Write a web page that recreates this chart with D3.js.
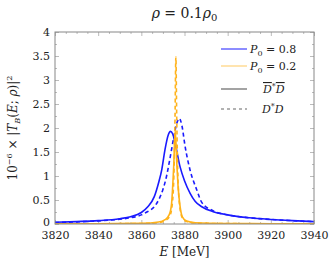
<!DOCTYPE html>
<html>
<head>
<meta charset="utf-8">
<script src="https://cdn.jsdelivr.net/npm/d3@7"></script>
<style>
  body { margin: 0; background: #fff; }
  svg text { font-family: "DejaVu Serif", serif !important; fill: #222; }
</style>
</head>
<body>
<div id="chart"></div>
<script>
// curves: energy (MeV) and 10^-6 |T_B|^2
var blueSolidE = [3820, 3830, 3840, 3850, 3855, 3860, 3863, 3866, 3868, 3869.5, 3871, 3872.5, 3873.5, 3874.5, 3875.6, 3877.9, 3880, 3882.6, 3885, 3888, 3893, 3900, 3910, 3920, 3930, 3940];
var blueSolidV = [0.035, 0.05, 0.07, 0.11, 0.15, 0.24, 0.36, 0.57, 0.86, 1.14, 1.56, 1.86, 1.93, 1.88, 1.7, 1.2, 0.9, 0.64, 0.47, 0.36, 0.26, 0.19, 0.13, 0.095, 0.07, 0.05];

var blueDashE = [3820, 3830, 3840, 3850, 3855, 3860, 3863, 3866, 3868, 3870, 3871.7, 3873, 3874.8, 3876.3, 3877.6, 3878.8, 3880.3, 3882.6, 3885.7, 3888, 3893, 3900, 3910, 3920, 3930, 3940];
var blueDashV = [0.03, 0.045, 0.065, 0.1, 0.13, 0.19, 0.26, 0.36, 0.5, 0.72, 1.0, 1.3, 1.75, 2.08, 2.2, 2.05, 1.61, 1.12, 0.71, 0.45, 0.28, 0.19, 0.13, 0.095, 0.07, 0.05];

var orangeSolidE = [3820, 3840, 3860, 3868, 3871, 3873, 3874, 3875, 3875.7, 3876.4, 3877, 3878, 3879, 3881, 3885, 3900, 3920, 3940];
var orangeSolidV = [0.004, 0.006, 0.012, 0.04, 0.09, 0.2, 0.42, 1.2, 1.95, 1.3, 0.8, 0.35, 0.15, 0.06, 0.025, 0.01, 0.006, 0.004];

var orangeDashE = [3820, 3840, 3860, 3868, 3871, 3873, 3874, 3875, 3875.6, 3876, 3876.4, 3877, 3878, 3879, 3881, 3885, 3900, 3920, 3940];
var orangeDashV = [0.003, 0.005, 0.01, 0.03, 0.07, 0.15, 0.3, 0.9, 2.2, 3.48, 2.2, 0.9, 0.3, 0.13, 0.05, 0.02, 0.008, 0.005, 0.003];

var xTicks = [3820, 3840, 3860, 3880, 3900, 3920, 3940];
var yTicks = [0, 0.5, 1, 1.5, 2, 2.5, 3, 3.5, 4];

var W = 332, H = 266;
var margin = {top: 32, right: 18, bottom: 42, left: 55};
var width = W - margin.left - margin.right,
    height = H - margin.top - margin.bottom;

var blue = "#1a1aff", orange = "#ffb21a";
var serif = "'DejaVu Serif', serif";

var svg = d3.select("#chart").append("svg")
    .attr("width", W).attr("height", H)
    .attr("font-family", serif);

var g = svg.append("g")
    .attr("transform", "translate(" + margin.left + "," + margin.top + ")");

var x = d3.scaleLinear().domain([3820, 3940]).range([0, width]);
var y = d3.scaleLinear().domain([0, 4]).range([height, 0]);

// minor ticks
var xMinor = d3.range(3820, 3941, 5).filter(function(v) { return xTicks.indexOf(v) < 0; });
var yMinor = d3.range(0.25, 4, 0.5);

function tickStyle(sel) {
  sel.attr("font-family", serif);
  sel.select(".domain").remove();
  sel.selectAll("line").attr("stroke", "#aaa").attr("stroke-width", 0.8);
  sel.selectAll("text").style("font-size", "11px").attr("fill", "#222");
}

g.append("g").attr("transform", "translate(0," + height + ")")
  .call(d3.axisBottom(x).tickValues(xTicks).tickSize(-4).tickPadding(7).tickFormat(d3.format("d")))
  .call(tickStyle);
g.append("g")
  .call(d3.axisTop(x).tickValues(xTicks).tickSize(-4).tickFormat(""))
  .call(tickStyle);
g.append("g").attr("transform", "translate(0," + height + ")")
  .call(d3.axisBottom(x).tickValues(xMinor).tickSize(-2).tickFormat(""))
  .call(tickStyle);
g.append("g")
  .call(d3.axisTop(x).tickValues(xMinor).tickSize(-2).tickFormat(""))
  .call(tickStyle);

var yAxisG = g.append("g")
  .call(d3.axisLeft(y).tickValues(yTicks).tickSize(-4).tickPadding(5).tickFormat(function(d) { return d; }))
  .call(tickStyle);
// the zero label sits a little higher so it clears 3820
yAxisG.selectAll("text").filter(function(d) { return d === 0; }).attr("dy", "0.1em");
g.append("g").attr("transform", "translate(" + width + ",0)")
  .call(d3.axisRight(y).tickValues(yTicks).tickSize(-4).tickFormat(""))
  .call(tickStyle);
g.append("g")
  .call(d3.axisLeft(y).tickValues(yMinor).tickSize(-2).tickFormat(""))
  .call(tickStyle);
g.append("g").attr("transform", "translate(" + width + ",0)")
  .call(d3.axisRight(y).tickValues(yMinor).tickSize(-2).tickFormat(""))
  .call(tickStyle);

g.append("clipPath").attr("id", "clip")
  .append("rect").attr("width", width).attr("height", height);

var line = d3.line()
  .x(function(d) { return x(d[0]); })
  .y(function(d) { return y(d[1]); })
  .curve(d3.curveMonotoneX);

function zip(a, b) { return a.map(function(v, i) { return [v, b[i]]; }); }

var curves = [
  {e: blueSolidE, v: blueSolidV, color: blue, dash: null},
  {e: blueDashE, v: blueDashV, color: blue, dash: "4,3"},
  {e: orangeSolidE, v: orangeSolidV, color: orange, dash: null},
  {e: orangeDashE, v: orangeDashV, color: orange, dash: "4,3"}
];

var plot = g.append("g").attr("clip-path", "url(#clip)");
curves.forEach(function(c) {
  plot.append("path")
    .attr("d", line(zip(c.e, c.v)))
    .attr("fill", "none")
    .attr("stroke", c.color)
    .attr("stroke-width", 1.6)
    .attr("stroke-dasharray", c.dash);
});

// frame
g.append("rect").attr("width", width).attr("height", height)
  .attr("fill", "none").attr("stroke", "#888").attr("stroke-width", 1);

// legend
var leg = g.append("g");
var legRows = [
  {y: 49, color: blue, dash: null, w: 1, label: "P0", val: " = 0.8"},
  {y: 66, color: "#ffd27a", dash: null, w: 1.2, label: "P0", val: " = 0.2"},
  {y: 89, color: "#666", dash: null, w: 1.2, label: "bar"},
  {y: 109, color: "#666", dash: "3,3", w: 1.2, label: "dd"}
];
legRows.forEach(function(r) {
  var yy = r.y - margin.top;
  leg.append("line")
    .attr("x1", 221 - margin.left).attr("x2", 247 - margin.left)
    .attr("y1", yy).attr("y2", yy)
    .attr("stroke", r.color).attr("stroke-width", r.w)
    .attr("stroke-dasharray", r.dash);
  var t = leg.append("text").attr("y", yy + 4).style("font-size", "11px");
  if (r.label == "P0") {
    t.attr("x", 250 - margin.left);
    t.append("tspan").style("font-style", "italic").text("P");
    t.append("tspan").attr("dy", 3).style("font-size", "8px").text("0");
    t.append("tspan").attr("dy", -3).text(r.val);
  } else if (r.label == "bar") {
    t.attr("x", 263 - margin.left);
    t.append("tspan").style("font-style", "italic").style("text-decoration", "overline").text("D");
    t.append("tspan").attr("dy", -4).style("font-size", "8px").text("*");
    t.append("tspan").attr("dy", 4).style("font-style", "italic").style("text-decoration", "overline").text("D");
  } else {
    t.attr("x", 262 - margin.left);
    t.append("tspan").style("font-style", "italic").text("D");
    t.append("tspan").attr("dy", -4).style("font-size", "8px").text("*");
    t.append("tspan").attr("dy", 4).style("font-style", "italic").text("D");
  }
});

// title
var title = svg.append("text")
  .attr("x", margin.left + width / 2).attr("y", 18)
  .attr("text-anchor", "middle").style("font-size", "14px");
title.append("tspan").style("font-style", "italic").text("ρ");
title.append("tspan").text(" = 0.1");
title.append("tspan").style("font-style", "italic").text("ρ");
title.append("tspan").attr("dy", 3).style("font-size", "10px").text("0");

// x label
var xl = svg.append("text")
  .attr("x", margin.left + width / 2).attr("y", 256)
  .attr("text-anchor", "middle").style("font-size", "12px");
xl.append("tspan").style("font-style", "italic").text("E");
xl.append("tspan").text(" [MeV]");

// y label
var yl = svg.append("text")
  .attr("transform", "translate(17," + (margin.top + height / 2) + ") rotate(-90)")
  .attr("text-anchor", "middle").style("font-size", "12px");
yl.append("tspan").text("10");
yl.append("tspan").attr("dy", -5).style("font-size", "8px").text("−6");
yl.append("tspan").attr("dy", 5).text(" × |");
yl.append("tspan").style("font-style", "italic").text("T");
yl.append("tspan").attr("dy", 3).style("font-size", "8px").style("font-style", "italic").text("B");
yl.append("tspan").attr("dy", -3).text("(");
yl.append("tspan").style("font-style", "italic").text("E");
yl.append("tspan").text("; ");
yl.append("tspan").style("font-style", "italic").text("ρ");
yl.append("tspan").text(")|");
yl.append("tspan").attr("dy", -5).style("font-size", "8px").text("2");
</script>
</body>
</html>
